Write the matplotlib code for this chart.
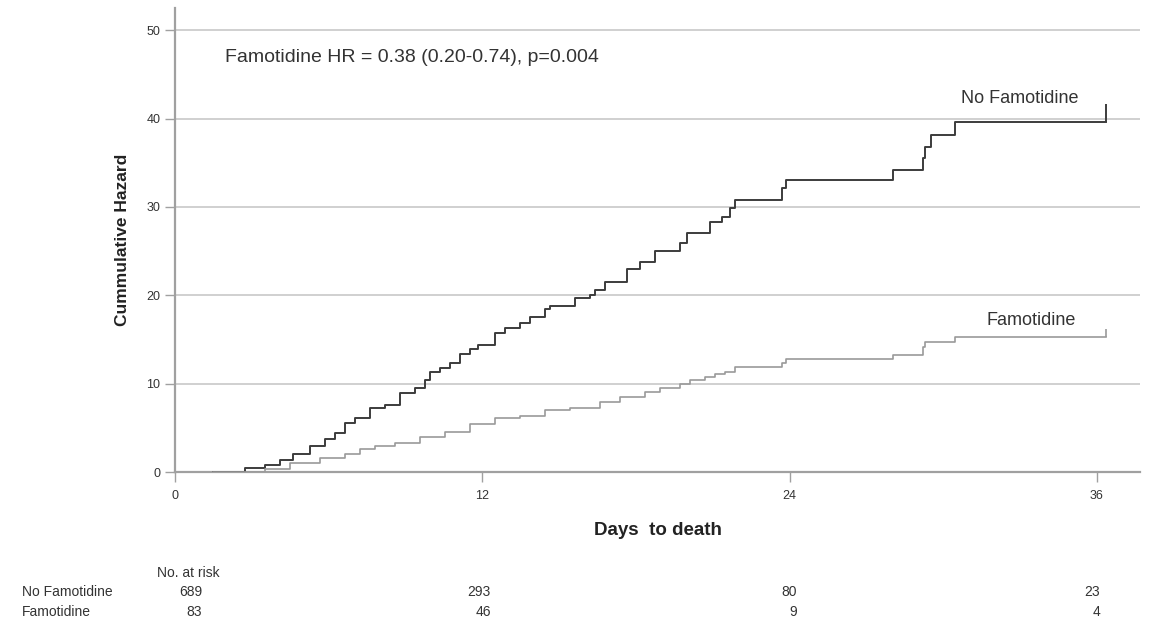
"""
Cumulative hazard by famotidine use, with the number-at-risk table below.
Step values read off the published figure.
"""
import matplotlib
matplotlib.use("Agg")
import matplotlib.pyplot as plt

# ── Data (days, cumulative hazard) ────────────────────────────────────────────
NO_FAMO_DAYS = [1.48, 2.73, 3.51, 4.10, 4.60, 5.27, 5.85, 6.24, 6.63, 7.02,
                7.61, 8.20, 8.78, 9.37, 9.76, 9.95, 10.34, 10.73, 11.12, 11.51,
                11.82, 12.49, 12.88, 13.46, 13.85, 14.44, 14.63, 15.61, 16.20,
                16.39, 16.78, 17.64, 18.15, 18.73, 19.71, 19.98, 20.88, 21.35,
                21.66, 21.85, 23.69, 23.84, 28.02, 29.19, 29.27, 29.50, 30.44]
NO_FAMO_HAZ = [0.0, 0.45, 0.8, 1.4, 2.1, 2.9, 3.8, 4.4, 5.5, 6.1,
               7.2, 7.6, 8.9, 9.5, 10.4, 11.3, 11.8, 12.4, 13.4, 13.9,
               14.4, 15.7, 16.3, 16.9, 17.5, 18.5, 18.8, 19.7, 20.0,
               20.6, 21.5, 23.0, 23.8, 25.0, 25.9, 27.0, 28.3, 28.9,
               29.9, 30.8, 32.2, 33.0, 34.2, 35.5, 36.8, 38.1, 39.6]

FAMO_DAYS = [1.48, 3.51, 4.49, 5.66, 6.63, 7.22, 7.80, 8.59, 9.56, 10.54,
             11.51, 12.49, 13.46, 14.44, 15.41, 16.59, 17.37, 18.34, 18.93,
             19.71, 20.10, 20.68, 21.07, 21.46, 21.85, 23.69, 23.84, 28.02,
             29.19, 29.27, 30.44]
FAMO_HAZ = [0.0, 0.3, 1.0, 1.6, 2.1, 2.6, 2.9, 3.3, 4.0, 4.5,
            5.4, 6.1, 6.4, 7.0, 7.3, 7.9, 8.5, 9.1, 9.5,
            10.0, 10.4, 10.8, 11.1, 11.3, 11.9, 12.4, 12.8, 13.2,
            14.1, 14.7, 15.3]

LAST_DAY = 36.37               # last follow-up (censor tick)
CENSOR_TOP = {"no": 41.7, "famo": 16.2}

X_TICKS = [0, 12, 24, 36]
Y_TICKS = [0, 10, 20, 30, 40, 50]

RISK_GROUPS = ["No Famotidine", "Famotidine"]
RISK_NO_FAMO = [689, 293, 80, 23]
RISK_FAMO = [83, 46, 9, 4]

# layout of the risk table (pixels in the 1152x622 canvas)
W, H = 1152, 622
RISK_COL_RIGHT = [202, 491, 797, 1100]
RISK_ROW_Y = [592, 612]

DARK = "#3c3c3c"
LIGHT = "#9a9a9a"
GRID = "#c8c8c8"
AXIS = "#a0a0a0"
TEXT = "#333333"
SANS = ["Liberation Sans", "DejaVu Sans"]


def main():
    plt.rcParams["font.family"] = SANS
    fig = plt.figure(figsize=(W / 100, H / 100), dpi=100)
    ax = fig.add_axes([0.152, 0.241, 0.838, 0.746])

    # ── Curves ────────────────────────────────────────────────────────────────
    ax.step(NO_FAMO_DAYS + [LAST_DAY], NO_FAMO_HAZ + [NO_FAMO_HAZ[-1]],
            where="post", color=DARK, lw=1.4, zorder=3)
    ax.vlines(LAST_DAY, NO_FAMO_HAZ[-1], CENSOR_TOP["no"], color=DARK, lw=1.4, zorder=3)
    ax.step(FAMO_DAYS + [LAST_DAY], FAMO_HAZ + [FAMO_HAZ[-1]],
            where="post", color=LIGHT, lw=1.2, zorder=3)
    ax.vlines(LAST_DAY, FAMO_HAZ[-1], CENSOR_TOP["famo"], color=LIGHT, lw=1.2, zorder=3)

    # ── Axes styling ──────────────────────────────────────────────────────────
    ax.set_xlim(0, 37.7)
    ax.set_ylim(0, 52.5)
    ax.set_xticks(X_TICKS)
    ax.set_yticks(Y_TICKS)
    ax.yaxis.grid(True, color=GRID, lw=1.2)
    ax.set_axisbelow(True)
    for side in ("top", "right"):
        ax.spines[side].set_visible(False)
    for side in ("left", "bottom"):
        ax.spines[side].set_color(AXIS)
        ax.spines[side].set_linewidth(1.6)
    ax.tick_params(axis="both", colors=AXIS, labelcolor=TEXT,
                   labelsize=9, length=7, width=1)
    ax.tick_params(axis="x", pad=6)

    ax.set_ylabel("Cummulative Hazard", fontsize=12.5, fontweight="bold",
                  color="#222222", labelpad=12)
    ax.set_xlabel("Days  to death", fontsize=13.5, fontweight="bold",
                  color="#222222", labelpad=14)

    ax.text(1.95, 46.9, "Famotidine HR = 0.38 (0.20-0.74), p=0.004",
            fontsize=14, color=TEXT, va="center")
    ax.text(33.0, 42.3, "No Famotidine", fontsize=13, color=TEXT,
            ha="center", va="center")
    ax.text(33.45, 17.1, "Famotidine", fontsize=13, color=TEXT,
            ha="center", va="center")

    # ── Number at risk table ──────────────────────────────────────────────────
    fig.text(157 / W, 1 - 573 / H, "No. at risk", fontsize=10,
             color=TEXT, va="center")
    rows = [RISK_NO_FAMO, RISK_FAMO]
    for label, counts, y in zip(RISK_GROUPS, rows, RISK_ROW_Y):
        fig.text(22 / W, 1 - y / H, label, fontsize=10,
                 color=TEXT, va="center")
        for x_right, n in zip(RISK_COL_RIGHT, counts):
            fig.text(x_right / W, 1 - y / H, str(n), fontsize=10,
                     color=TEXT, va="center", ha="right")

    fig.savefig("out.png", dpi=100)
    plt.close(fig)


if __name__ == "__main__":
    main()
